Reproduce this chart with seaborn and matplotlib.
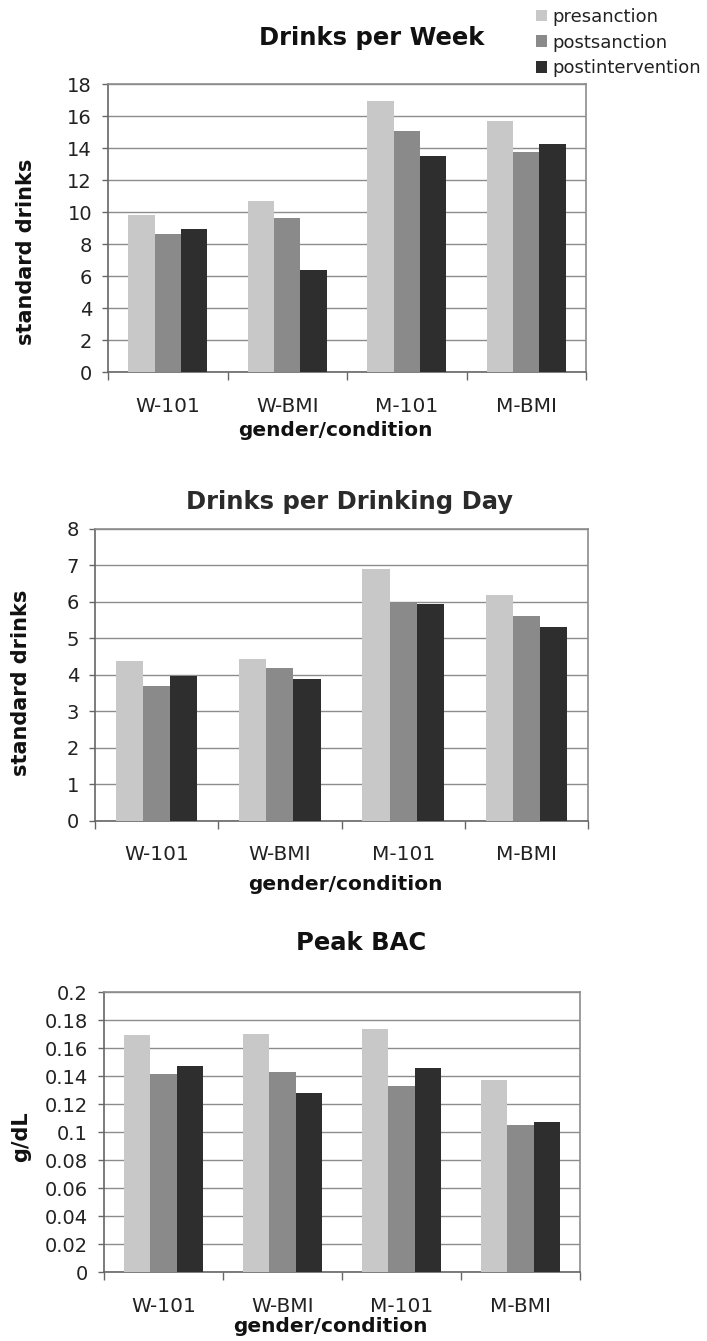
import matplotlib
matplotlib.use("Agg")
import matplotlib.pyplot as plt
from matplotlib.patches import Patch
import seaborn as sns
import pandas as pd
import numpy as np

categories = ["W-101", "W-BMI", "M-101", "M-BMI"]
series = ["presanction", "postsanction", "postintervention"]
colors = ["#c8c8c8", "#8a8a8a", "#2e2e2e"]

week_pre = [9.83, 10.67, 16.95, 15.71]
week_post = [8.64, 9.60, 15.04, 13.77]
week_int = [8.93, 6.38, 13.50, 14.27]

day_pre = [4.39, 4.45, 6.90, 6.19]
day_post = [3.71, 4.19, 6.00, 5.62]
day_int = [3.96, 3.88, 5.94, 5.32]

bac_pre = [0.169, 0.170, 0.1735, 0.137]
bac_post = [0.1415, 0.143, 0.133, 0.105]
bac_int = [0.147, 0.1277, 0.146, 0.107]

titles = ["Drinks per Week", "Drinks per Drinking Day", "Peak BAC"]
ylabels = ["standard drinks", "standard drinks", "g/dL"]
xlabel = "gender/condition"
yticks_list = [list(range(0, 19, 2)), list(range(0, 9)),
               [0, 0.02, 0.04, 0.06, 0.08, 0.1, 0.12, 0.14, 0.16, 0.18, 0.2]]
ytick_labels = [[str(v) for v in yticks_list[0]], [str(v) for v in yticks_list[1]],
                ["0", "0.02", "0.04", "0.06", "0.08", "0.1", "0.12", "0.14", "0.16", "0.18", "0.2"]]

sns.set_theme(style="white")
plt.rcParams["font.family"] = ["DejaVu Sans"]

W, H = 707, 1341
fig = plt.figure(figsize=(W / 100, H / 100), dpi=100)


def make_df(pre, post, inter):
    rows = []
    for s, vals in zip(series, [pre, post, inter]):
        for c, v in zip(categories, vals):
            rows.append({"cat": c, "series": s, "value": v})
    return pd.DataFrame(rows)


dfs = [make_df(week_pre, week_post, week_int),
       make_df(day_pre, day_post, day_int),
       make_df(bac_pre, bac_post, bac_int)]

# axes boxes in pixels: left, right, top, bottom
boxes = [(108, 586, 84, 372), (95, 588, 529, 821), (104, 580, 992, 1272)]
title_pos = [(372, 38), (349, 502), (361, 943)]
ylabel_pos = [(26, 252), (21, 683), (21, 1137)]
xtick_y = [406, 855, 1306]
xlabel_pos = [(335, 431), (345, 884), (330, 1327)]
title_colors = ["#111111", "#2a2a2a", "#111111"]

for i in range(3):
    l, r, t, b = boxes[i]
    ax = fig.add_axes([l / W, 1 - b / H, (r - l) / W, (b - t) / H])
    sns.barplot(data=dfs[i], x="cat", y="value", hue="series", order=categories,
                hue_order=series, palette=colors, width=0.66, gap=0,
                saturation=1, ax=ax, legend=False, errorbar=None,
                edgecolor="none", linewidth=0, zorder=3)
    ax.set_xlim(-0.5, 3.5)
    yt = yticks_list[i]
    ax.set_ylim(yt[0], yt[-1])
    ax.set_yticks(yt)
    ax.set_yticklabels(ytick_labels[i], fontsize=14, color="#222222")
    ax.yaxis.grid(True, color="#8c8c8c", linewidth=1.0, zorder=0)
    ax.set_axisbelow(True)
    for s in ax.spines.values():
        s.set_color("#8c8c8c")
        s.set_linewidth(1.2)
        s.set_visible(True)
    ax.spines["left"].set_color("#666666")
    ax.spines["bottom"].set_color("#666666")
    ax.tick_params(axis="y", which="major", left=True, length=4.5, width=1,
                   color="#666666", pad=7)
    ax.set_xticks(range(len(categories)))
    ax.set_xticklabels([])
    ax.tick_params(axis="x", which="major", length=0)
    ax.set_xticks([-0.5, 0.5, 1.5, 2.5, 3.5], minor=True)
    ax.tick_params(axis="x", which="minor", bottom=True, length=6, width=1,
                   color="#666666")
    ax.set_xlabel("")
    ax.set_ylabel("")
    # category labels
    for j, c in enumerate(categories):
        xd = ax.transData.transform((j, 0))[0]
        fig.text(xd / fig.dpi / fig.get_figwidth(), 1 - xtick_y[i] / H, c,
                 ha="center", va="center", fontsize=14.5, color="#222222")
    tx, ty = title_pos[i]
    fig.text(tx / W, 1 - ty / H, titles[i], ha="center", va="center",
             fontsize=17.5, fontweight="bold", color=title_colors[i])
    lx, ly = ylabel_pos[i]
    fig.text(lx / W, 1 - ly / H, ylabels[i], ha="center", va="center",
             rotation=90, fontsize=15, fontweight="bold", color="#111111")
    xx, xy = xlabel_pos[i]
    fig.text(xx / W, 1 - xy / H, xlabel, ha="center", va="center",
             fontsize=14.5, fontweight="bold", color="#111111")

handles = [Patch(facecolor=c, edgecolor="none") for c in colors]
fig.legend(handles, series, loc="upper left", bbox_to_anchor=(536 / W, 1 - 8 / H),
           frameon=False, fontsize=13, handlelength=0.6, handleheight=0.6,
           handletextpad=0.3, labelspacing=0.42, borderpad=0, borderaxespad=0,
           labelcolor="#222222")

fig.savefig("out.png", dpi=100, facecolor="white")
